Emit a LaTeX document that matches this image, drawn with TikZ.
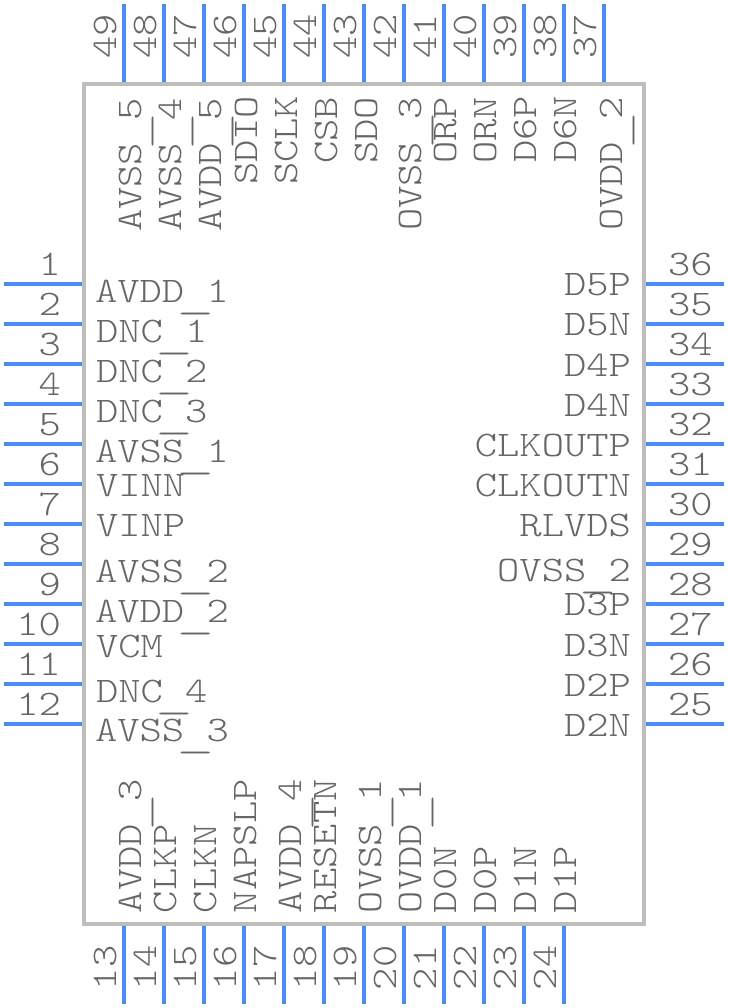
\documentclass[tikz,border=0pt]{standalone}
\usepackage{fontspec}
\newfontfamily\pinfont[FakeStretch=1.18]{Latin Modern Mono Light}
\newlength{\uswd}
\newcommand{\us}{\settowidth{\uswd}{0}\raisebox{-6.5pt}{\makebox[\uswd]{\scalebox{1.7}[1]{\_}}}}
\definecolor{pinblue}{HTML}{4A8CF7}
\definecolor{bodygray}{HTML}{BDBDBD}
\definecolor{txtgray}{HTML}{666666}
\tikzset{
  pinline/.style={draw=pinblue,line width=4pt},
  bodybox/.style={draw=bodygray,line width=4pt,fill=white},
  lbl/.style={inner sep=0pt,outer sep=0pt,text=txtgray,font=\pinfont\fontsize{36}{36}\selectfont},
  lw/.style={lbl,anchor=base west},
  le/.style={lbl,anchor=base east},
  lv/.style={lbl,anchor=base west,rotate=90}
}
\begin{document}
\begin{tikzpicture}[x=1pt,y=-1pt]
\useasboundingbox (0,0) rectangle (728,1008);
\coordinate (bodyNW) at (84,84);
\coordinate (bodySE) at (644,924);
\draw[bodybox] (bodyNW) rectangle (bodySE);
% left pins
\foreach \n [count=\i from 0] in {1,...,12}{
  \coordinate (pa\n) at (4,284+40*\i);
  \coordinate (pb\n) at (82,284+40*\i);
  \draw[pinline] (pa\n) -- (pb\n);
  \node[le] (num\n) at (61,275+40*\i) {\n};
}
% right pins
\foreach \n [count=\i from 0] in {36,35,...,25}{
  \coordinate (pa\n) at (646,284+40*\i);
  \coordinate (pb\n) at (724,284+40*\i);
  \draw[pinline] (pa\n) -- (pb\n);
  \node[lw] (num\n) at (668,275+40*\i) {\n};
}
% top pins
\foreach \n [count=\i from 0] in {49,48,...,37}{
  \coordinate (pa\n) at (124+40*\i,4);
  \coordinate (pb\n) at (124+40*\i,82);
  \draw[pinline] (pa\n) -- (pb\n);
  \node[lv] (num\n) at (116+40*\i,59) {\n};
}
% bottom pins
\foreach \n [count=\i from 0] in {13,14,...,24}{
  \coordinate (pa\n) at (124+40*\i,926);
  \coordinate (pb\n) at (124+40*\i,1004);
  \draw[pinline] (pa\n) -- (pb\n);
  \node[lv] (num\n) at (116+40*\i,990) {\n};
}
% left names
\foreach \t/\x/\y [count=\i] in {AVDD\us1/95/302,DNC\us1/96/342,DNC\us2/96/382,DNC\us3/96/422,AVSS\us1/95/462,VINN/96/496,VINP/96/536,AVSS\us2/95/582,AVDD\us2/95/622,VCM/96/657,DNC\us4/96/702,AVSS\us3/95/741}{
  \node[lw] (nl\i) at (\x,\y) {\t};
}
% right names
\foreach \t/\y [count=\i] in {D5P/295,D5N/335,D4P/376,D4N/416,CLKOUTP/456,CLKOUTN/496,RLVDS/536,OVSS\us2/581,D3P/615,D3N/656,D2P/696,D2N/736}{
  \node[le] (nr\i) at (631,\y) {\t};
}
% top names
\foreach \t/\x/\y [count=\i] in {AVSS\us5/141/232,AVSS\us4/181/232,AVDD\us5/221/232,SDIO/257/185,SCLK/297/185,CSB/337/164,SDO/377/164,OVSS\us3/421/231,ORP/456/164,ORN/496/164,D6P/536/163,D6N/576/163,OVDD\us2/622/231}{
  \node[lv] (nt\i) at (\x,\y) {\t};
}
% bottom names
\foreach \t/\x [count=\i] in {AVDD\us3/141,CLKP/176,CLKN/216,NAPSLP/256,AVDD\us4/301,RESETN/336,OVSS\us1/381,OVDD\us1/421,D0N/456,D0P/496,D1N/536,D1P/576}{
  \node[lv] (nb\i) at (\x,913) {\t};
}
\end{tikzpicture}
\end{document}
